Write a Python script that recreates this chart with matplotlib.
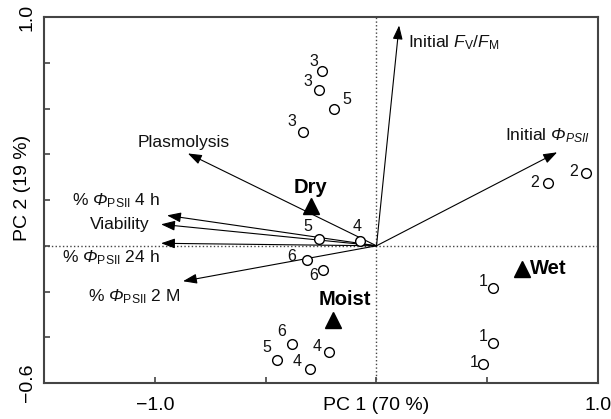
import matplotlib
matplotlib.use('Agg')
import matplotlib.pyplot as plt

plt.rcParams['font.family'] = ['Liberation Sans', 'DejaVu Sans']
plt.rcParams['mathtext.fontset'] = 'custom'
plt.rcParams['mathtext.rm'] = 'Liberation Sans'
plt.rcParams['mathtext.it'] = 'Liberation Sans:italic'
plt.rcParams['mathtext.bf'] = 'Liberation Sans:bold'
# sf slot used for an italic capital phi (mathtext keeps Greek capitals upright in \mathit)
plt.rcParams['mathtext.sf'] = 'Liberation Sans:italic'

# Scores (samples), label = sample number
pt_x = [-0.247, -0.261, -0.190, -0.333, -0.261, -0.074, -0.315, -0.240, -0.383,
        -0.448, -0.300, -0.213, 0.527, 0.524, 0.482, 0.774, 0.945]
pt_y = [0.763, 0.683, 0.600, 0.497, 0.031, 0.021, -0.060, -0.104, -0.428,
        -0.501, -0.537, -0.464, -0.184, -0.423, -0.518, 0.276, 0.317]
pt_lab = ['3', '3', '5', '3', '5', '4', '6', '6', '6',
          '5', '4', '4', '1', '1', '1', '2', '2']

# Loadings (variables)
var_names = [r'Initial $\mathsf{Φ}_{\mathit{PSII}}$',
             r'Initial $\mathit{F}_{\mathrm{V}}$/$\mathit{F}_{\mathrm{M}}$',
             'Plasmolysis',
             r'% $\mathsf{Φ}_{\mathrm{PSII}}$ 4 h',
             'Viability',
             r'% $\mathsf{Φ}_{\mathrm{PSII}}$ 24 h',
             r'% $\mathsf{Φ}_{\mathrm{PSII}}$ 2 M']
var_x = [0.815, 0.102, -0.851, -0.945, -0.972, -0.972, -0.873]
var_y = [0.409, 0.964, 0.404, 0.133, 0.094, 0.011, -0.155]

# Group centroids
grp_names = ['Dry', 'Moist', 'Wet']
grp_x = [-0.297, -0.195, 0.655]
grp_y = [0.173, -0.323, -0.100]

# label offsets in pixels (layout only)
pt_off = [(-8, 10), (-11, 8), (12, 9), (-11, 11), (-11, 12), (-3, 14), (-15, 3),
          (-10, -6), (-10, 12), (-10, 13), (-13, 7), (-12, 5), (-10, 6), (-9, 6),
          (-9, 2), (-13, 0), (-12, 2)]
var_off = [((33, 17), 'right'), ((9, -17), 'left'), ((-4, 11), 'center'),
           ((-7, 15), 'right'), ((-11, 0), 'right'), ((-1, -14), 'right'),
           ((-3, -15), 'right')]
grp_off = [((0, 19), 'center'), ((12, 20), 'center'), ((8, 0), 'left')]

fig = plt.figure(figsize=(6.11, 4.19), dpi=100)
ax = fig.add_axes([0.072, 0.086, 0.907, 0.873])
ax.set_xlim(-1.5, 1.0)
ax.set_ylim(-0.6, 1.0)

ax.axhline(0, color='#444444', ls=':', lw=1, zorder=1)
ax.axvline(0, color='#444444', ls=':', lw=1, zorder=1)

for name, vx, vy, (off, ha) in zip(var_names, var_x, var_y, var_off):
    ax.annotate('', xy=(vx, vy), xytext=(0, 0),
                arrowprops=dict(arrowstyle='-|>,head_length=0.7,head_width=0.25',
                                color='k', lw=0.8, mutation_scale=12,
                                shrinkA=0, shrinkB=0), zorder=2)
    ax.annotate(name, xy=(vx, vy), xytext=off, textcoords='offset pixels',
                ha=ha, va='center', fontsize=12.5, color='#111111')

ax.plot(pt_x, pt_y, 'o', ms=7, mfc='white', mec='k', mew=1, zorder=3)
for x, y, lab, off in zip(pt_x, pt_y, pt_lab, pt_off):
    ax.annotate(lab, xy=(x, y), xytext=off, textcoords='offset pixels',
                ha='center', va='center', fontsize=11.5, color='#111111')

ax.plot(grp_x, grp_y, '^', ms=12, color='k', zorder=4)
for name, x, y, (off, ha) in zip(grp_names, grp_x, grp_y, grp_off):
    ax.annotate(name, xy=(x, y), xytext=off, textcoords='offset pixels',
                ha=ha, va='center', fontsize=14.5, fontweight='bold')

ax.set_xticks([-1.5, -1.0, -0.5, 0.0, 0.5, 1.0])
ax.set_xticklabels(['', '\u22121.0', '', 'PC 1 (70 %)', '', '1.0'])
ax.set_yticks([-0.6, -0.4, -0.2, 0.0, 0.2, 0.4, 0.6, 0.8, 1.0])
ax.set_yticklabels(['\u22120.6', '', '', '', '', '', '', '', '1.0'])
plt.setp(ax.get_yticklabels(), rotation=90, va='center')
ax.text(-0.039, 0.534, 'PC 2 (19 %)', rotation=90, transform=ax.transAxes,
        ha='center', va='center', fontsize=14)
ax.tick_params(direction='in', length=4, width=1.2, color='#444444',
               labelsize=14, pad=10)
ax.tick_params(axis='y', pad=6)
for s in ax.spines.values():
    s.set_color('#444444')
    s.set_linewidth(1.5)

fig.savefig('out.png', dpi=100)
